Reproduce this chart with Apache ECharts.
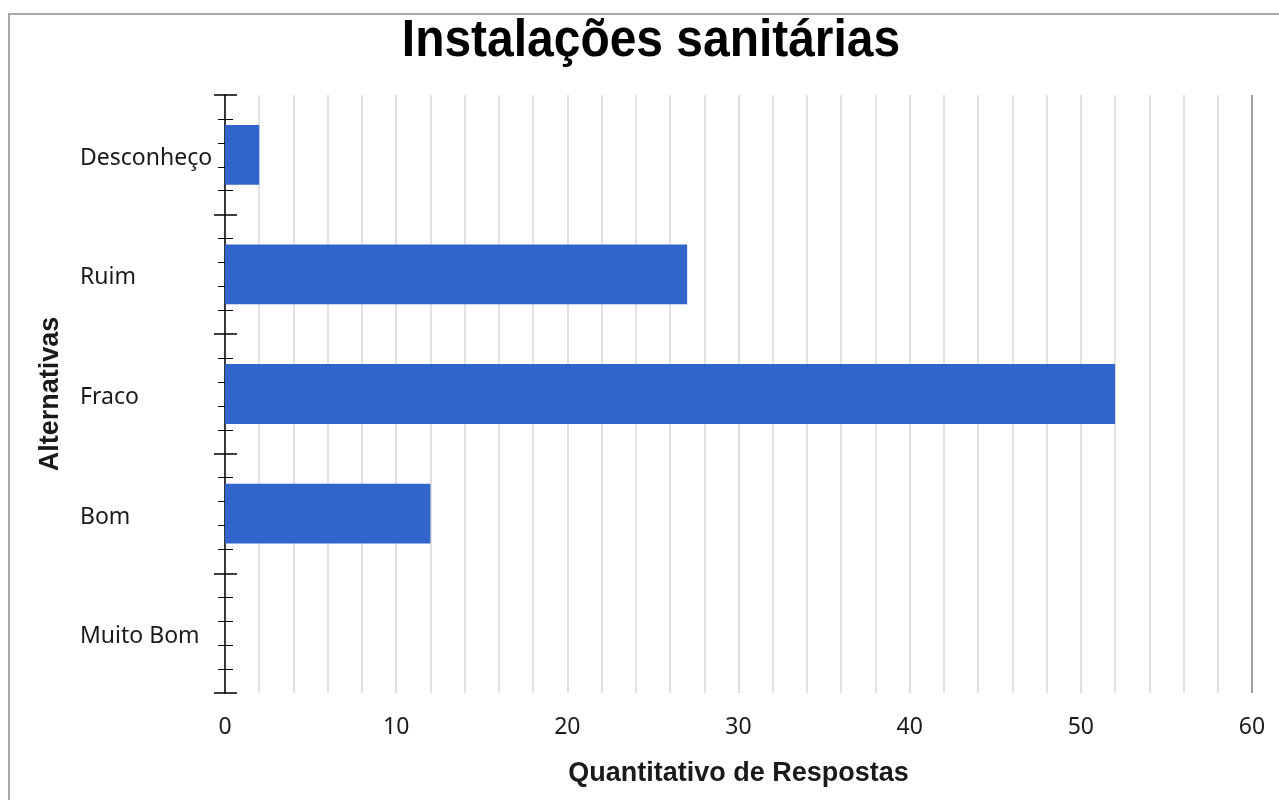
<!DOCTYPE html>
<html>
<head>
<meta charset="utf-8">
<script src="https://cdn.jsdelivr.net/npm/echarts@6/dist/echarts.min.js"></script>
<style>html,body{margin:0;padding:0;background:#fff}#c{width:1279px;height:800px}</style>
</head>
<body>
<div id="c"></div>
<script>
const titleText = 'Instalações sanitárias';
const categories = ['Muito Bom', 'Bom', 'Fraco', 'Ruim', 'Desconheço'];
const values = [0, 12, 52, 27, 2];
const xAxisName = 'Quantitativo de Respostas';
const yAxisName = 'Alternativas';
const xMin = 0, xMax = 60, xMajor = 10;

const chart = echarts.init(document.getElementById('c'), null, {renderer: 'canvas'});
const tickAxis = (inside) => ({
  type: 'value', position: 'left', min: 0, max: categories.length, interval: 1,
  axisLine: {show: false}, axisLabel: {show: false}, splitLine: {show: false},
  axisTick: {show: true, inside: inside, length: inside ? 12 : 11, lineStyle: {color: '#000', width: 1.5}},
  minorTick: {show: true, splitNumber: 5, length: inside ? 8 : 7, lineStyle: {color: '#000', width: 1}},
  silent: true
});
chart.setOption({
  animation: false,
  backgroundColor: '#fff',
  graphic: [{
    type: 'rect', shape: {x: 9, y: 14, width: 1300, height: 820},
    style: {fill: 'none', stroke: '#a8a8a8', lineWidth: 2}, silent: true, z: -10
  }, {
    type: 'text', x: 651, y: 42, scaleX: 0.94, scaleY: 1, silent: true,
    style: {
      text: titleText, font: 'bold 51px "Liberation Sans", Arial, sans-serif',
      fill: '#000', textAlign: 'center', textVerticalAlign: 'middle'
    }
  }],
  grid: {left: 225, right: 27, top: 95, bottom: 107, containLabel: false},
  xAxis: {
    type: 'value', min: xMin, max: xMax, interval: xMajor,
    name: xAxisName, nameLocation: 'middle', nameGap: 67,
    nameTextStyle: {fontFamily: 'Liberation Sans', fontWeight: 'bold', fontSize: 27, color: '#1a1a1a'},
    axisLine: {show: false}, axisTick: {show: false},
    axisLabel: {margin: 23, fontFamily: 'Noto Sans', fontSize: 23, color: '#1a1a1a'},
    splitLine: {show: true, lineStyle: {color: '#d4d4d4', width: 1.5}},
    minorTick: {show: false, splitNumber: 5},
    minorSplitLine: {show: true, lineStyle: {color: '#d9d9d9', width: 1.5}}
  },
  yAxis: [{
    type: 'category', data: categories, position: 'left',
    name: yAxisName, nameLocation: 'middle', nameGap: 161, nameRotate: 90,
    nameTextStyle: {fontFamily: 'Liberation Sans', fontWeight: 'bold', fontSize: 27, color: '#1a1a1a'},
    axisLine: {show: true, lineStyle: {color: '#000', width: 1.5}},
    axisTick: {show: false},
    axisLabel: {
      align: 'left', margin: 145,
      formatter: (v) => '{a|' + v + '}',
      rich: {a: {padding: [7, 0, 0, 0], fontFamily: 'Noto Sans', fontSize: 23, color: '#1a1a1a'}}
    },
    splitLine: {show: false}
  }, tickAxis(false), tickAxis(true)],
  series: [{
    type: 'bar', data: values, yAxisIndex: 0, barWidth: '50%',
    itemStyle: {color: '#3165CB'}, z: 1
  }, {
    type: 'line', data: [], yAxisIndex: 0,
    markLine: {
      silent: true, symbol: 'none', label: {show: false},
      lineStyle: {color: '#a0a0a0', width: 2, type: 'solid'},
      data: [{xAxis: xMax}]
    }
  }, {
    type: 'line', data: [], yAxisIndex: 0,
    markLine: {
      silent: true, symbol: 'none', label: {show: false},
      lineStyle: {color: '#d4d4d4', width: 1.5, type: 'solid'},
      data: [[{coord: [xMin, categories.length - 0.5]}, {coord: [xMax, categories.length - 0.5]}]]
    }
  }]
});
</script>
</body>
</html>
